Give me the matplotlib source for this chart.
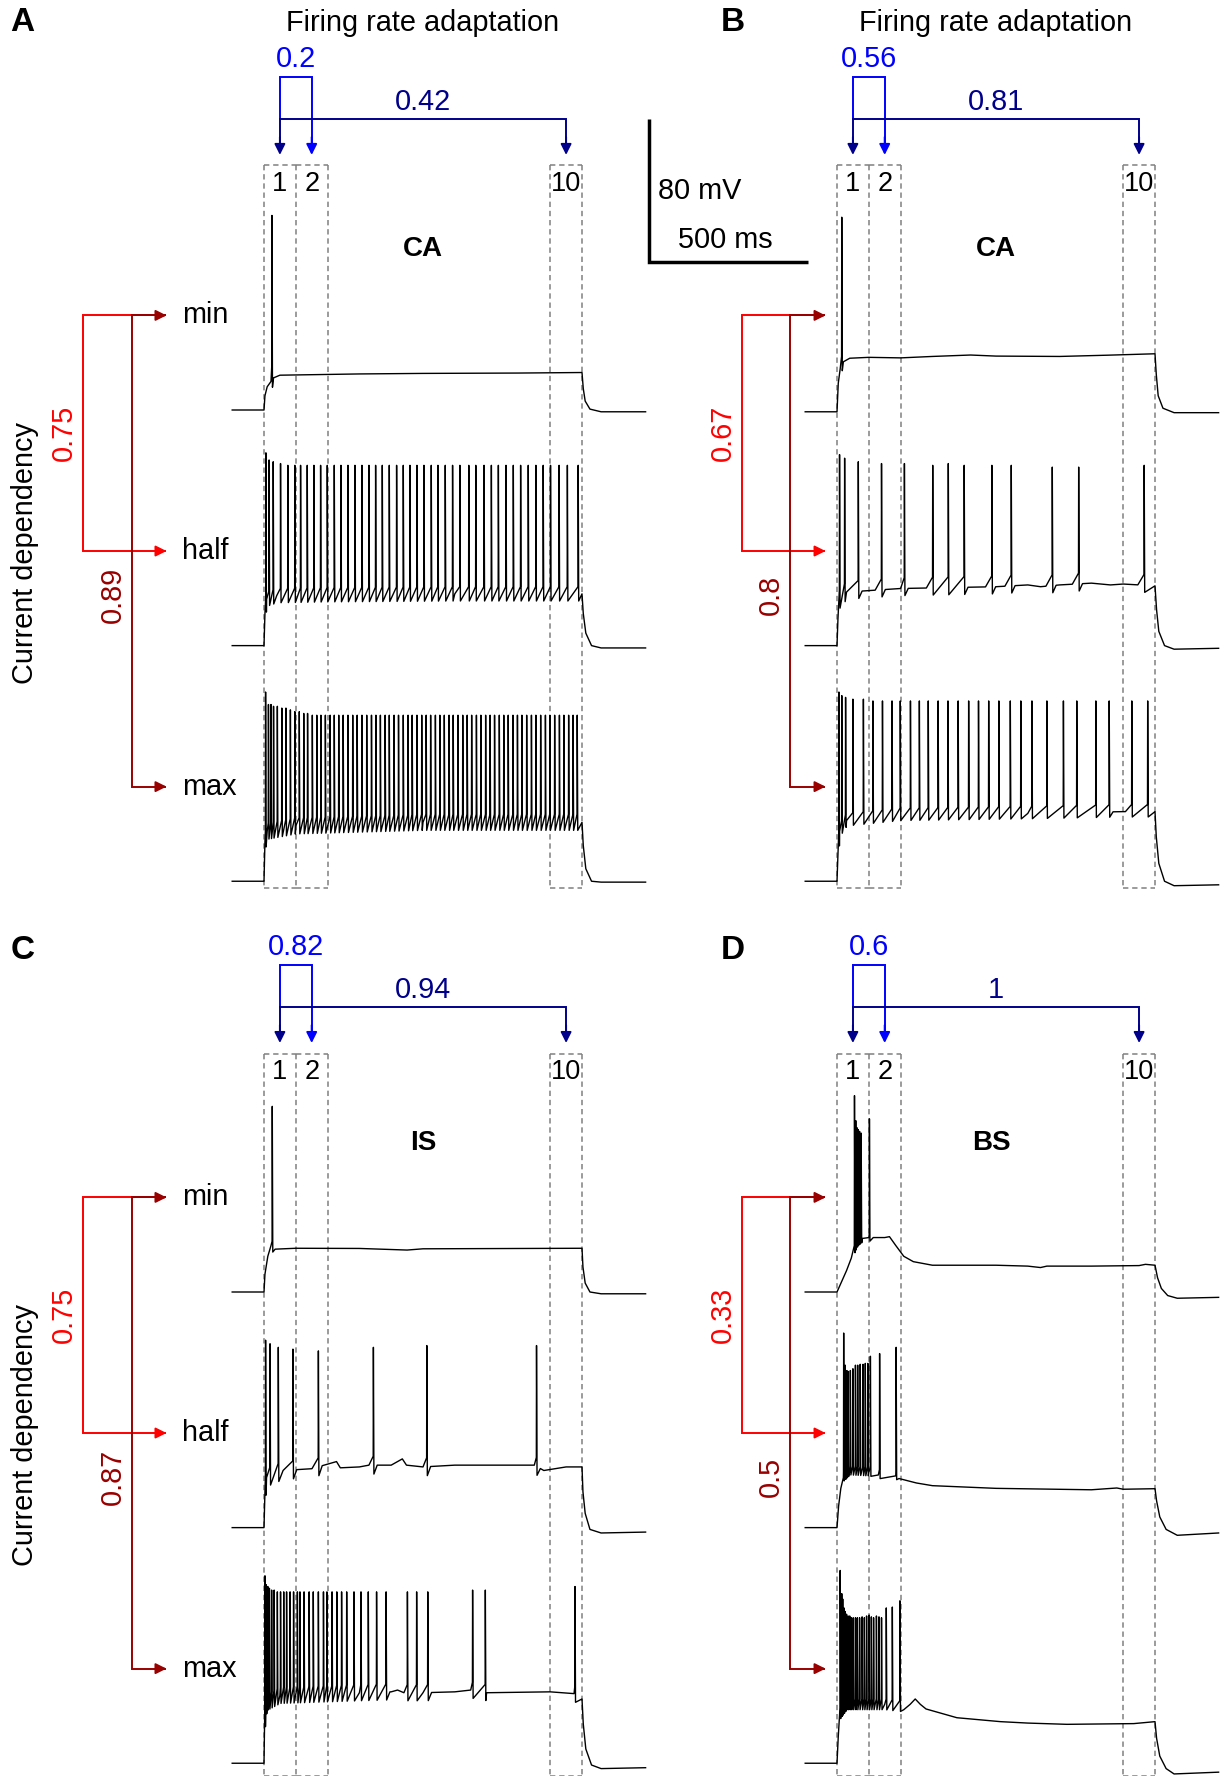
import numpy as np
import matplotlib.pyplot as plt

plt.rcParams['font.family'] = ['Liberation Sans', 'DejaVu Sans']

# Sweeps per cell, rows = min / half / max current step.
# spikes: spike times (ms from step onset); peaks: spike peaks (mV, last value
# carries on); level: membrane level knots (ms, mV); swing: (rise, dip) around spikes
a_spikes = [
    [25],
    [6, 16, 29, 52, 75, 97, 115, 136, 157, 178, 199, 221, 242, 264, 286, 308,
     330, 351, 372, 394, 417, 438, 459, 481, 503, 526, 547, 570, 593, 616, 644,
     666, 692, 715, 737, 761, 784, 807, 831, 855, 878, 901, 928, 954, 988],
    [5, 14, 22, 30, 42, 56, 69, 83, 97, 111, 125, 137, 152, 166, 179, 193, 208,
     221, 235, 249, 264, 279, 293, 308, 323, 338, 352, 366, 381, 394, 409, 423,
     438, 453, 466, 481, 496, 510, 524, 539, 553, 567, 582, 595, 610, 625, 639,
     653, 668, 682, 697, 711, 725, 740, 754, 768, 783, 797, 811, 826, 841, 855,
     870, 885, 899, 914, 929, 943, 958, 972, 985],
]
a_peaks = [[39], [38, 34, 33, 32, 31],
           [36, 29, 29, 28, 28, 27, 27, 26, 25, 25, 24, 24, 23]]
a_level = [
    [(-100, -70), (0, -70), (3, -62), (10, -57), (22, -54), (30, -52), (50, -50.5),
     (300, -49.8), (500, -49.5), (800, -49.3), (1000, -49), (1004, -58), (1010, -65),
     (1025, -69.5), (1060, -71), (1200, -71)],
    [(-100, -70), (0, -70), (3, -52), (8, -44), (40, -42), (200, -41.5), (600, -41),
     (1000, -41), (1004, -52), (1012, -63), (1030, -70), (1060, -71.3), (1200, -71.3)],
    [(-100, -70), (0, -70), (3, -48), (10, -42), (100, -39), (500, -37), (1000, -37),
     (1004, -50), (1012, -63), (1030, -70), (1060, -70.5), (1200, -70.5)],
]
a_swing = [(8, 4), (4, 4), (4.5, 4.5)]

b_spikes = [
    [15],
    [8, 24, 67, 140, 212, 301, 350, 400, 487, 548, 677, 760, 966],
    [6, 15, 27, 50, 83, 113, 143, 173, 199, 231, 259, 287, 318, 349, 381, 414,
     445, 477, 509, 545, 578, 613, 660, 712, 754, 814, 856, 927, 977],
]
b_peaks = [[38], [37, 35, 33, 32, 32, 31, 32, 31, 31, 31, 30, 30, 31],
           [36, 34, 33, 32, 32, 31]]
b_level = [
    [(-100, -71), (0, -71), (4, -55), (10, -47), (20, -43), (40, -41), (100, -40.5),
     (200, -40.8), (300, -40), (420, -39.2), (500, -39.8), (700, -40), (850, -39.3),
     (1000, -38.5), (1004, -50), (1010, -62), (1025, -69), (1060, -71.5), (1200, -71.5)],
    [(-100, -70), (0, -70), (3, -55), (8, -45), (30, -40), (200, -38), (500, -37),
     (600, -36), (640, -37), (700, -36), (800, -35), (860, -36), (900, -35.5),
     (1000, -36.5), (1005, -50), (1012, -62), (1030, -70), (1060, -72), (1200, -71.5)],
    [(-100, -70), (0, -70), (3, -55), (8, -42), (30, -36), (200, -33), (600, -32),
     (900, -31), (1000, -31), (1004, -45), (1012, -60), (1030, -70), (1060, -72.5),
     (1200, -72)],
]
b_swing = [(5, 3), (6, 4), (4, 3)]

c_spikes = [
    [26],
    [5, 19, 45, 91, 171, 344, 512, 857],
    [3, 7, 12, 17, 24, 32, 42, 52, 62, 71, 82, 93, 105, 113, 126, 142, 155, 171,
     187, 198, 214, 229, 244, 260, 283, 305, 328, 354, 384, 451, 480, 515, 656,
     696, 978],
]
c_peaks = [[34], [35, 33, 31, 30, 29, 31, 32, 32],
           [35, 30, 29, 28, 27, 27, 26, 26, 26, 26, 26, 26, 26, 26, 26, 26, 26, 26,
            26, 26, 26, 26, 26, 26, 26, 26, 26, 26, 26, 26, 26, 26, 27, 27, 29]]
c_level = [
    [(-100, -70), (0, -70), (3, -60), (12, -50), (22, -44), (35, -46), (100, -45.5),
     (300, -45.6), (450, -46.5), (500, -45.8), (1000, -45.5), (1003, -56),
     (1010, -65), (1025, -70), (1060, -71), (1200, -71)],
    [(-100, -70), (0, -70), (3, -50), (8, -42), (60, -38), (150, -37), (228, -33),
     (240, -36.5), (300, -36), (330, -35), (400, -35), (420, -33), (435, -31.5),
     (448, -35), (500, -36), (600, -35), (850, -35), (880, -38), (950, -36),
     (1000, -36), (1003, -50), (1010, -62), (1025, -71), (1060, -73), (1200, -72.5)],
    [(-100, -70), (0, -70), (3, -45), (8, -36), (50, -32), (300, -30.5), (400, -30),
     (420, -29), (440, -30.5), (500, -30.5), (600, -30), (650, -29), (700, -30.5),
     (900, -30), (975, -31), (1000, -34), (1004, -48), (1012, -62), (1030, -71),
     (1060, -73), (1200, -72.5)],
]
c_swing = [(3, 3), (5, 5), (4.5, 4.5)]

d_spikes = [
    [55, 59, 63, 67, 71, 76, 102],
    [21, 26, 31, 35, 42, 50, 58, 65, 73, 82, 89, 97, 105, 134, 186],
    [10, 15, 18, 22, 26, 30, 35, 40, 45, 51, 58, 64, 71, 79, 86, 93, 101, 108,
     115, 124, 132, 140, 155, 174, 198],
]
d_peaks = [[40, 26, 22, 21, 20, 19, 27],
           [39, 21, 18, 17.5, 18, 19, 21, 21, 21.5, 21.5, 22, 22, 26, 27.5, 31],
           [38, 25, 22, 17, 15, 13.5, 12.5, 12.5, 11.5, 11.5, 11.5, 11.5, 11.5, 12,
            11.5, 12.5, 13, 12, 11.5, 12.5, 12, 11.5, 17, 17.5, 21]]
d_level = [
    [(-100, -70), (0, -70), (15, -64), (30, -58), (45, -51), (55, -46), (65, -42),
     (80, -40), (100, -39.5), (150, -39.5), (165, -39), (185, -44), (210, -50),
     (240, -53), (300, -55), (500, -55), (600, -55.5), (640, -56.3), (660, -55.5),
     (800, -55.5), (950, -55.2), (970, -54.5), (1000, -55), (1008, -62),
     (1020, -68), (1040, -72), (1070, -73.5), (1200, -73)],
    [(-100, -70), (0, -70), (5, -58), (12, -48), (20, -42), (40, -38.5), (100, -39),
     (130, -40.5), (185, -41), (195, -42.5), (250, -45), (300, -46.5), (500, -48),
     (800, -48.8), (880, -47.8), (900, -48.5), (1000, -48.2), (1005, -55),
     (1015, -64), (1035, -71), (1070, -74.3), (1200, -73)],
    [(-100, -70), (0, -70), (4, -55), (10, -42), (30, -37), (150, -37), (198, -38),
     (210, -40), (230, -37), (246, -34), (262, -37), (280, -39.6), (377, -44.5),
     (514, -46.7), (600, -47.5), (723, -48.2), (933, -47.8), (1000, -46.7),
     (1005, -56), (1015, -66), (1035, -73), (1060, -76), (1200, -75)],
]
d_swing = [(2, 2), (3, 2), (3, 3)]

letters = ['A', 'B', 'C', 'D']
cell_types = ['CA', 'CA', 'IS', 'BS']
adaptation = [(0.2, 0.42), (0.56, 0.81), (0.82, 0.94), (0.6, 1)]
current_dep = [(0.75, 0.89), (0.67, 0.8), (0.75, 0.87), (0.33, 0.5)]
steps = ['min', 'half', 'max']
windows = [(0, 100), (100, 200), (900, 1000)]
window_names = ['1', '2', '10']

# layout (pixels)
W, H, DPI = 1227, 1776, 100
X0, Y0 = 264, 410            # pixel of step onset / top resting level in a panel
PX_MS, PX_MV = 0.318, 1.785
PW, PH = 654, 892
REST, ROW = -70, 132         # resting level and spacing of stacked sweeps (mV)
origins = [(0, 0), (573, 0), (0, 882), (573, 882)]

LIGHT, NAVY = '#0000FF', '#00008B'
RED, DARK_RED = '#FF0000', '#990000'
GREY = '#808080'
FS = 20.8
DASH = (0, (3.5, 2.5))

fig = plt.figure(figsize=(W / DPI, H / DPI), dpi=DPI)


def sweep(spikes, peaks, level, rise, dip):
    kt, kv = np.array(level, dtype=float).T

    def base(t):
        return float(np.interp(t, kt, kv))

    pts = [(t, v) for t, v in level if not any(s - 1 < t < s + 2 for s in spikes)]
    for i, s in enumerate(spikes):
        b = base(s)
        pk = peaks[min(i, len(peaks) - 1)]
        pts += [(s - 0.6, b + rise), (s, pk), (s + 1.6, b - dip)]
        nxt = spikes[i + 1] if i + 1 < len(spikes) else 1000
        prv = spikes[i - 1] if i > 0 else 0
        if nxt - s > 60:
            pts.append((s + 12, base(s + 12)))
        if s - prv > 60:
            pts.append((s - 20, base(s - 20)))
    pts.sort()
    return np.array(pts).T


def arrow(ax, x, y, dx, dy, color):
    ax.annotate('', xy=(x, y), xytext=(x - dx, y - dy), annotation_clip=False,
                arrowprops=dict(arrowstyle='-|>', color=color, lw=1.4,
                                mutation_scale=16, shrinkA=0, shrinkB=0))


def bracket(ax, xs, ys, color):
    ax.plot(xs, ys, color=color, lw=1.4, clip_on=False, solid_joinstyle='miter')


panels = [(a_spikes, a_peaks, a_level, a_swing), (b_spikes, b_peaks, b_level, b_swing),
          (c_spikes, c_peaks, c_level, c_swing), (d_spikes, d_peaks, d_level, d_swing)]

for p, (spk, pks, lvl, swg) in enumerate(panels):
    ox, oy = origins[p]
    left, top = p % 2 == 0, p < 2
    dy = 0 if top else -3.4      # header of the lower row sits a little lower
    ax = fig.add_axes([ox / W, 1 - (oy + PH) / H, PW / W, PH / H])
    ax.set_xlim(-X0 / PX_MS, (PW - X0) / PX_MS)
    ax.set_ylim(REST - (PH - Y0) / PX_MV, REST + Y0 / PX_MV)
    ax.axis('off')

    # voltage sweeps
    for k in range(3):
        t, v = sweep(spk[k], pks[k], lvl[k], *swg[k])
        ax.plot(t, v - k * ROW, color='black', lw=1.0, zorder=3, clip_on=False)

    # analysis windows, shared edges drawn once
    box_top, box_bot = 67 + dy, -338 + dy
    edges = sorted({e for w in windows for e in w})
    for e in edges:
        ax.plot([e, e], [box_top, box_bot], color=GREY, lw=1.1, ls=DASH,
                clip_on=False, zorder=1)
    for (t0, t1), name in zip(windows, window_names):
        for yb in (box_top, box_bot):
            ax.plot([t0, t1], [yb, yb], color=GREY, lw=1.1, ls=DASH,
                    clip_on=False, zorder=1)
        ax.text((t0 + t1) / 2, 56.5 + dy, name, ha='center', va='center',
                fontsize=19.5)
    centers = [(t0 + t1) / 2 for t0, t1 in windows]

    # firing rate adaptation brackets
    tip, h1, h2 = 72.9 + dy, 116.6 + dy, 93 + dy
    bracket(ax, [centers[0], centers[0], centers[1], centers[1]],
            [h2, h1, h1, tip + 5], LIGHT)
    arrow(ax, centers[1], tip, 0, -10, LIGHT)
    bracket(ax, [centers[0], centers[0], centers[2], centers[2]],
            [tip + 5, h2, h2, tip + 5], NAVY)
    arrow(ax, centers[0], tip, 0, -10, NAVY)
    arrow(ax, centers[2], tip, 0, -10, NAVY)
    ax.text((centers[0] + centers[1]) / 2, 126.5 + dy, f'{adaptation[p][0]:g}',
            color=LIGHT, ha='center', va='center', fontsize=FS)
    ax.text((centers[0] + centers[2]) / 2, 102.5 + dy, f'{adaptation[p][1]:g}',
            color=NAVY, ha='center', va='center', fontsize=FS)

    # current dependency brackets
    ys = [REST + 53 - k * ROW for k in range(3)]
    if left:
        xr, xd, xtip = -570, -414, -306.6
    else:
        xr, xd, xtip = -298.7, -147, -36
    bracket(ax, [xtip - 5, xr, xr, xtip - 5], [ys[0], ys[0], ys[1], ys[1]], RED)
    arrow(ax, xtip, ys[1], 30, 0, RED)
    bracket(ax, [xtip - 5, xd, xd, xtip - 5], [ys[0], ys[0], ys[2], ys[2]], DARK_RED)
    arrow(ax, xtip, ys[0], 30, 0, DARK_RED)
    arrow(ax, xtip, ys[2], 30, 0, DARK_RED)
    ax.text(xr - 60, -83, f'{current_dep[p][0]:g}', color=RED, rotation=90,
            ha='center', va='center', fontsize=FS)
    ax.text(xd - 62, -173.5, f'{current_dep[p][1]:g}', color=DARK_RED, rotation=90,
            ha='center', va='center', fontsize=FS)

    if left:
        for k, name in enumerate(steps):
            ax.text(-256.6, ys[k], name, ha='left', va='center', fontsize=FS)
        ax.text(-751.6, -150, 'Current dependency', rotation=90,
                ha='center', va='center', fontsize=FS)

    ax.text(-759 if left else -327, 147 if top else 121.5, letters[p],
            ha='center', va='center', fontsize=24, fontweight='bold')
    if top:
        ax.text(500, 147, 'Firing rate adaptation', ha='center', va='center',
                fontsize=FS)
    ax.text(500 if p != 3 else 487, 20 if top else 13.5, cell_types[p],
            ha='center', va='center', fontsize=20, fontweight='bold')

    # scale bar
    if p == 1:
        ax.plot([-591, -591, -91], [93.1, 13.1, 13.1], color='black', lw=2.5,
                clip_on=False, solid_joinstyle='miter', solid_capstyle='butt')
        ax.text(-563, 52.5, '80 mV', ha='left', va='center', fontsize=FS)
        ax.text(-352, 25.5, '500 ms', ha='center', va='center', fontsize=FS)

fig.savefig('out.png', dpi=DPI)
